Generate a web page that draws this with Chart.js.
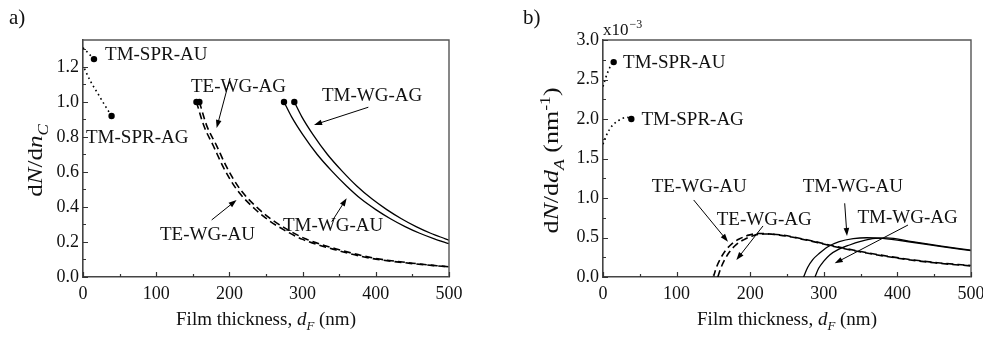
<!DOCTYPE html>
<html>
<head>
<meta charset="utf-8">
<script src="https://cdn.jsdelivr.net/npm/chart.js@4/dist/chart.umd.min.js"></script>
<style>
  html, body { margin: 0; background: #fff; }
  #wrap { position: relative; width: 983px; height: 338px; overflow: hidden; }
  canvas { position: absolute; top: 0; }
  #ca { left: 0; }
  #cb { left: 490px; }
</style>
</head>
<body>
<div id="wrap">
  <canvas id="ca" width="490" height="338"></canvas>
  <canvas id="cb" width="493" height="338"></canvas>
</div>
<script>
// ---- panel a: dN/dn_C vs film thickness (nm) ----
const sprAuA_x = [0, 7, 15];
const sprAuA_y = [1.31, 1.28, 1.245];
const sprAgA_x = [2, 10, 20, 30, 39];
const sprAgA_y = [1.19, 1.12, 1.05, 0.98, 0.92];
const teAuA_x = [155, 165, 178, 192, 210, 237, 255, 275, 300, 346, 392, 447, 500];
const teAuA_y = [1.0, 0.865, 0.75, 0.625, 0.50, 0.38, 0.32, 0.268, 0.215, 0.154, 0.108, 0.078, 0.058];
const teAgA_x = [159, 169, 182, 196, 214, 241, 259, 279, 304, 350, 396, 450, 500];
const teAgA_y = [1.0, 0.865, 0.755, 0.63, 0.505, 0.385, 0.325, 0.272, 0.218, 0.156, 0.109, 0.079, 0.058];
const tmAuA_x = [274.6, 285, 300, 320, 340, 360, 380, 400, 420, 440, 460, 480, 500];
const tmAuA_y = [1.0, 0.915, 0.815, 0.70, 0.605, 0.52, 0.445, 0.385, 0.333, 0.288, 0.25, 0.218, 0.19];
const tmAgA_x = [288.7, 299, 314, 334, 354, 374, 395, 415, 435, 455, 475, 495, 500];
const tmAgA_y = [1.0, 0.915, 0.815, 0.70, 0.605, 0.52, 0.445, 0.385, 0.333, 0.288, 0.25, 0.218, 0.21];

// ---- panel b: dN/dd_A (nm^-1, in units of 1e-3) vs film thickness (nm) ----
const sprAuB_x = [0, 3.6, 6.8, 10, 14.5];
const sprAuB_y = [2.41, 2.52, 2.60, 2.665, 2.72];
const sprAgB_x = [0, 4, 9, 14, 20, 27, 33, 38.5];
const sprAgB_y = [1.68, 1.78, 1.87, 1.93, 1.975, 2.01, 2.02, 2.0];
const teAuB_x = [150, 154, 160, 166, 175, 185, 198, 212, 240, 280, 317, 360, 403, 450, 500];
const teAuB_y = [0, 0.12, 0.24, 0.33, 0.42, 0.48, 0.53, 0.55, 0.53, 0.46, 0.38, 0.30, 0.235, 0.18, 0.14];
const teAgB_x = [156, 160, 166, 172, 181, 191, 203, 216, 240, 280, 317, 360, 403, 450, 500];
const teAgB_y = [0, 0.11, 0.23, 0.32, 0.41, 0.47, 0.52, 0.545, 0.535, 0.465, 0.385, 0.305, 0.24, 0.185, 0.145];
const tmAuB_x = [272.5, 278, 285, 294, 305, 321, 340, 358, 380, 420, 460, 500];
const tmAuB_y = [0, 0.12, 0.22, 0.30, 0.38, 0.447, 0.485, 0.497, 0.49, 0.44, 0.385, 0.333];
const tmAgB_x = [288, 293, 300, 308, 320, 335, 350, 366, 385, 420, 460, 500];
const tmAgB_y = [0, 0.11, 0.20, 0.28, 0.35, 0.405, 0.45, 0.485, 0.495, 0.448, 0.392, 0.34];

const xTicks = [0, 100, 200, 300, 400, 500];

const SERIF = '"Liberation Serif", "Times New Roman", serif';
const INK = '#111';

const LINE = {
  dotted: { borderDash: [1.6, 3.2], borderWidth: 1.6 },
  dashed: { borderDash: [7, 4], borderWidth: 1.6 },
  solid:  { borderDash: [], borderWidth: 1.3 }
};

// one curve; markAt = index of the point that gets a filled dot (-1 = none)
function series(xs, ys, style, markAt) {
  return {
    data: xs.map((x, i) => ({ x, y: ys[i] })),
    borderColor: '#000',
    ...LINE[style],
    fill: false,
    cubicInterpolationMode: 'monotone',
    pointRadius: ctx => (ctx.dataIndex === markAt ? 3.2 : 0),
    pointBackgroundColor: '#000',
    pointBorderWidth: 0
  };
}

function fontFor(p, size) {
  const s = (p.sub || p.sup) ? size * 0.68 : size;
  return (p.it ? 'italic ' : '') + s + 'px ' + SERIF;
}

// mixed italic / sub / superscript text, centred on (x, y);
// stretch widens the glyph run along the text direction
function drawRich(ctx, parts, size, x, y, rot, stretch) {
  ctx.save();
  ctx.translate(x, y);
  if (rot) ctx.rotate(rot);
  if (stretch) ctx.scale(stretch, 1);
  ctx.textBaseline = 'alphabetic';
  ctx.textAlign = 'left';
  ctx.fillStyle = INK;
  let w = 0;
  for (const p of parts) { ctx.font = fontFor(p, size); w += ctx.measureText(p.t).width; }
  let cx = -w / 2;
  for (const p of parts) {
    ctx.font = fontFor(p, size);
    const dy = p.sub ? size * 0.28 : p.sup ? -size * 0.42 : 0;
    ctx.fillText(p.t, cx, dy);
    cx += ctx.measureText(p.t).width;
  }
  ctx.restore();
}

function arrow(ctx, x1, y1, x2, y2) {
  const ang = Math.atan2(y2 - y1, x2 - x1);
  const L = 8, H = 2.8;
  ctx.beginPath();
  ctx.moveTo(x1, y1);
  ctx.lineTo(x2 - Math.cos(ang) * L * 0.8, y2 - Math.sin(ang) * L * 0.8);
  ctx.stroke();
  ctx.beginPath();
  ctx.moveTo(x2, y2);
  ctx.lineTo(x2 - Math.cos(ang) * L - Math.sin(ang) * H, y2 - Math.sin(ang) * L + Math.cos(ang) * H);
  ctx.lineTo(x2 - Math.cos(ang) * L + Math.sin(ang) * H, y2 - Math.sin(ang) * L - Math.cos(ang) * H);
  ctx.closePath();
  ctx.fill();
}

// frame, inward ticks, titles, curve labels and arrows
const decoPlugin = {
  id: 'deco',
  afterDraw(chart, args, o) {
    const { ctx, chartArea: a } = chart;
    const sx = chart.scales.x, sy = chart.scales.y;
    ctx.save();

    ctx.strokeStyle = '#555';
    ctx.lineWidth = 1.4;
    ctx.beginPath();
    ctx.moveTo(a.left, a.top);
    ctx.lineTo(a.right, a.top);
    ctx.lineTo(a.right, a.bottom);
    ctx.stroke();

    ctx.strokeStyle = '#333';
    ctx.lineWidth = 1.2;
    ctx.beginPath();
    for (let v = sx.min; v <= sx.max + 1e-9; v += o.minorX) {
      const px = Math.round(sx.getPixelForValue(v)) + 0.5;
      const len = Math.abs(v / o.majorX - Math.round(v / o.majorX)) < 1e-6 ? 5 : 3;
      ctx.moveTo(px, a.bottom);
      ctx.lineTo(px, a.bottom - len);
    }
    for (let v = sy.min; v <= sy.max + 1e-9; v += o.minorY) {
      const py = Math.round(sy.getPixelForValue(v)) + 0.5;
      const len = Math.abs(v / o.majorY - Math.round(v / o.majorY)) < 1e-6 ? 5 : 3;
      ctx.moveTo(a.left, py);
      ctx.lineTo(a.left + len, py);
    }
    ctx.stroke();

    // panel letter
    ctx.fillStyle = INK;
    ctx.font = '21px ' + SERIF;
    ctx.textAlign = 'left';
    ctx.textBaseline = 'alphabetic';
    ctx.fillText(o.letter.t, o.letter.px, o.letter.py);

    // axis titles
    drawRich(ctx, o.xTitle, 19, (a.left + a.right) / 2, 325);
    drawRich(ctx, o.yTitle, 20, o.yTitleX, (a.top + a.bottom) / 2 + 2, -Math.PI / 2, o.yStretch);

    if (o.exponent) {
      ctx.font = '17px ' + SERIF;
      ctx.fillText('x10', a.left, 35);
      const w = ctx.measureText('x10').width;
      ctx.font = '12px ' + SERIF;
      ctx.fillText('\u22123', a.left + w + 1, 28);
    }

    // curve labels
    ctx.font = '19px ' + SERIF;
    for (const n of o.notes) {
      ctx.fillText(n.t, sx.getPixelForValue(n.x), sy.getPixelForValue(n.y));
    }
    ctx.strokeStyle = '#000';
    ctx.fillStyle = '#000';
    ctx.lineWidth = 1;
    for (const r of o.arrows) {
      arrow(ctx,
        sx.getPixelForValue(r.from[0]), sy.getPixelForValue(r.from[1]),
        sx.getPixelForValue(r.to[0]), sy.getPixelForValue(r.to[1]));
    }
    ctx.restore();
  }
};

function makeChart(id, datasets, yMax, yStep, yAxisWidth, padRight, deco) {
  return new Chart(document.getElementById(id), {
    type: 'line',
    data: { datasets },
    options: {
      responsive: false,
      animation: false,
      layout: { padding: { top: 40, right: padRight, left: 0, bottom: 0 } },
      plugins: { legend: { display: false }, tooltip: { enabled: false }, deco },
      scales: {
        x: {
          type: 'linear', min: 0, max: 500,
          afterFit: s => { s.height = 61; s.paddingLeft = 0; s.paddingRight = 0; },
          afterBuildTicks: s => { s.ticks = xTicks.map(v => ({ value: v })); },
          grid: { display: false, drawTicks: false },
          border: { display: true, color: '#444', width: 1.6 },
          ticks: { padding: 6, color: INK, maxRotation: 0, autoSkip: false,
                   font: { family: SERIF, size: 18 } }
        },
        y: {
          type: 'linear', min: 0, max: yMax,
          afterFit: s => { s.width = yAxisWidth; s.paddingTop = 0; s.paddingBottom = 0; },
          grid: { display: false, drawTicks: false },
          border: { display: true, color: '#444', width: 1.6 },
          ticks: { stepSize: yStep, includeBounds: false, padding: 4, color: INK,
                   font: { family: SERIF, size: 18 }, callback: v => v.toFixed(1) }
        }
      }
    },
    plugins: [decoPlugin]
  });
}

const xTitle = [{ t: 'Film thickness, ' }, { t: 'd', it: true }, { t: 'F', it: true, sub: true }, { t: ' (nm)' }];

makeChart('ca', [
  series(sprAuA_x, sprAuA_y, 'dotted', sprAuA_x.length - 1),
  series(sprAgA_x, sprAgA_y, 'dotted', sprAgA_x.length - 1),
  series(teAuA_x, teAuA_y, 'dashed', 0),
  series(teAgA_x, teAgA_y, 'dashed', 0),
  series(tmAuA_x, tmAuA_y, 'solid', 0),
  series(tmAgA_x, tmAgA_y, 'solid', 0)
], 1.354, 0.2, 83, 41, {
  letter: { t: 'a)', px: 9, py: 24 },
  xTitle,
  yTitle: [{ t: 'd' }, { t: 'N', it: true }, { t: '/d' }, { t: 'n', it: true }, { t: 'C', it: true, sub: true }],
  yTitleX: 42,
  yStretch: 1.25,
  majorX: 100, minorX: 50, majorY: 0.2, minorY: 0.1,
  notes: [
    { t: 'TM-SPR-AU', x: 30.1, y: 1.24 },
    { t: 'TM-SPR-AG', x: 4.1, y: 0.766 },
    { t: 'TE-WG-AG', x: 147.5, y: 1.057 },
    { t: 'TM-WG-AG', x: 326.5, y: 1.006 },
    { t: 'TE-WG-AU', x: 105.2, y: 0.211 },
    { t: 'TM-WG-AU', x: 273.2, y: 0.263 }
  ],
  arrows: [
    { from: [200.8, 1.137], to: [182.6, 0.851] },
    { from: [175.8, 0.326], to: [209.8, 0.44] },
    { from: [389.8, 0.970], to: [315.6, 0.869] },
    { from: [339.8, 0.316], to: [360.2, 0.450] }
  ]
});

makeChart('cb', [
  series(sprAuB_x, sprAuB_y, 'dotted', sprAuB_x.length - 1),
  series(sprAgB_x, sprAgB_y, 'dotted', sprAgB_x.length - 1),
  series(teAuB_x, teAuB_y, 'dashed', -1),
  series(teAgB_x, teAgB_y, 'dashed', -1),
  series(tmAuB_x, tmAuB_y, 'solid', -1),
  series(tmAgB_x, tmAgB_y, 'solid', -1)
], 3.0, 0.5, 113, 12, {
  letter: { t: 'b)', px: 33, py: 24 },
  xTitle,
  yTitle: [{ t: 'd' }, { t: 'N', it: true }, { t: '/d' }, { t: 'd', it: true }, { t: 'A', it: true, sub: true },
           { t: ' (nm' }, { t: '-1', sup: true }, { t: ')' }],
  yTitleX: 68,
  yStretch: 1.3,
  exponent: true,
  majorX: 100, minorX: 50, majorY: 0.5, minorY: 0.25,
  notes: [
    { t: 'TM-SPR-AU', x: 27.3, y: 2.65 },
    { t: 'TM-SPR-AG', x: 52.2, y: 1.92 },
    { t: 'TE-WG-AU', x: 66.2, y: 1.076 },
    { t: 'TE-WG-AG', x: 154.5, y: 0.658 },
    { t: 'TM-WG-AU', x: 271.3, y: 1.076 },
    { t: 'TM-WG-AG', x: 345.8, y: 0.684 }
  ],
  arrows: [
    { from: [123.2, 0.975], to: [169.8, 0.447] },
    { from: [217.4, 0.646], to: [181.2, 0.215] },
    { from: [328.4, 0.933], to: [331.5, 0.519] },
    { from: [414.4, 0.658], to: [314.8, 0.173] }
  ]
});
</script>
</body>
</html>
